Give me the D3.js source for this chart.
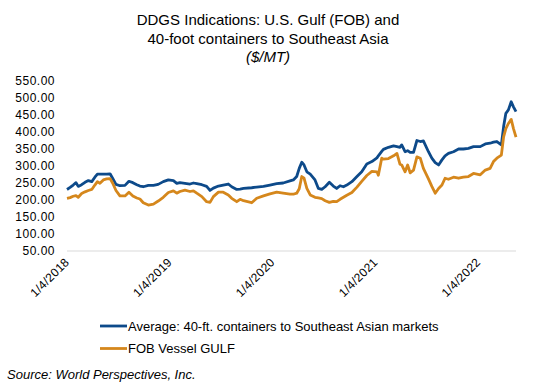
<!DOCTYPE html>
<html>
<head>
  <meta charset="utf-8">
  <script src="https://d3js.org/d3.v7.min.js"></script>
  <style>
    body { margin: 0; background: #fff; }
    text { font-family: Arial, "Liberation Sans", sans-serif; fill: #000; }
  </style>
</head>
<body>
<script>
// values ($/MT)
var dates = ["2018-01-04","2018-01-15","2018-01-26","2018-02-05","2018-02-13","2018-02-25","2018-03-09","2018-03-21",
  "2018-04-02","2018-04-13","2018-04-22","2018-05-01","2018-05-13","2018-05-25","2018-06-06","2018-06-15","2018-06-27",
  "2018-07-11","2018-07-29","2018-08-12","2018-08-26","2018-09-09","2018-09-20","2018-10-02","2018-10-20","2018-11-07",
  "2018-11-24","2018-12-12","2018-12-30","2019-01-17","2019-01-29","2019-02-09","2019-02-27","2019-03-17","2019-03-29",
  "2019-04-10","2019-04-28","2019-05-15","2019-05-27","2019-06-08","2019-06-26","2019-07-13","2019-07-31","2019-08-12",
  "2019-08-30","2019-09-11","2019-09-23","2019-10-22","2019-11-09","2019-12-03","2019-12-26","2020-01-19","2020-02-11",
  "2020-03-06","2020-03-18","2020-03-30","2020-04-08","2020-04-17","2020-04-25","2020-05-05","2020-05-17","2020-06-03",
  "2020-06-15","2020-06-27","2020-07-09","2020-07-24","2020-08-07","2020-08-19","2020-08-31","2020-09-12","2020-09-24",
  "2020-10-12","2020-10-30","2020-11-16","2020-12-04","2020-12-22","2021-01-09","2021-01-14","2021-01-26","2021-02-01",
  "2021-02-19","2021-03-09","2021-03-21","2021-04-01","2021-04-07","2021-04-19","2021-04-28","2021-05-07","2021-05-19",
  "2021-05-31","2021-06-12","2021-06-23","2021-07-11","2021-07-23","2021-08-04","2021-08-16","2021-08-28","2021-09-08",
  "2021-09-20","2021-10-08","2021-10-26","2021-11-12","2021-11-30","2021-12-18","2022-01-11","2022-01-29","2022-02-15",
  "2022-02-27","2022-03-11","2022-03-27","2022-04-04","2022-04-12","2022-04-21","2022-05-01","2022-05-09","2022-05-18"];

var avgContainer = [231,237,244,251,240,245,252,257,254,267,276,276,276,276,277,264,246,242,243,255,251,245,241,239,243,243,
  246,254,259,257,249,251,249,247,250,248,245,240,228,235,241,244,247,239,231,232,234,236,238,240,244,248,250,256,259,269,
  293,311,303,283,276,259,234,231,239,252,241,234,242,239,244,254,269,283,306,313,324,330,343,349,355,359,357,355,362,342,
  345,340,340,375,372,374,342,323,310,303,318,330,337,342,350,350,352,357,357,365,367,370,372,362,416,455,465,489,474,460];

var fobGulf = [205,207,211,213,208,219,224,228,231,244,254,249,259,262,263,250,228,212,212,223,212,206,203,192,185,188,
  197,208,222,227,220,225,229,225,227,220,210,195,193,210,223,223,215,205,195,202,198,192,205,212,218,223,220,217,217,220,
  233,269,264,234,215,208,206,204,198,193,196,195,202,208,214,222,238,255,272,284,283,273,323,320,322,330,337,305,303,283,
  303,280,288,327,323,293,262,240,220,234,244,264,261,267,264,267,269,278,274,288,293,313,323,332,386,410,425,437,410,385];

var seriesNames = ["Average: 40-ft. containers to Southeast Asian markets", "FOB Vessel GULF"];
var seriesColors = ["#0d4a8a", "#d5871c"];
var yTicks = [50,100,150,200,250,300,350,400,450,500,550];
var xTicks = ["2018-01-04","2019-01-04","2020-01-04","2021-01-04","2022-01-04"];
var titleLines = ["DDGS Indications: U.S. Gulf (FOB) and", "40-foot containers to Southeast Asia", "($/MT)"];

var W = 533, H = 386;
var parse = d3.timeParse("%Y-%m-%d");
var fmtTick = function(d) { return (d.getMonth() + 1) + "/" + d.getDate() + "/" + d.getFullYear(); };

var svg = d3.select("body").append("svg").attr("width", W).attr("height", H);

var x = d3.scaleTime()
  .domain([parse("2018-01-04"), parse("2022-05-18")])
  .range([67, 516]);
var y = d3.scaleLinear().domain([50, 550]).range([251, 81]);

// title
var title = svg.append("text").attr("text-anchor", "middle").style("font-size", "15px");
titleLines.forEach(function(t, i) {
  title.append("tspan").attr("x", 268).attr("y", 25 + i * 18.5)
    .style("font-style", i == 2 ? "italic" : "normal").text(t);
});

// y axis labels (no gridlines)
svg.selectAll(".ylab").data(yTicks).enter().append("text")
  .attr("class", "ylab")
  .attr("x", 55).attr("y", function(d) { return y(d); })
  .attr("dy", "0.35em").attr("text-anchor", "end")
  .style("font-size", "12px").style("letter-spacing", "0.5px")
  .text(function(d) { return d3.format(".2f")(d); });

// baseline
svg.append("line").attr("x1", 67).attr("x2", 516).attr("y1", y(50)).attr("y2", y(50))
  .attr("stroke", "#d9d9d9").attr("stroke-width", 1);

// x tick labels, rotated
svg.selectAll(".xlab").data(xTicks.map(parse)).enter().append("text")
  .attr("class", "xlab")
  .attr("text-anchor", "end")
  .attr("transform", function(d) { return "translate(" + (x(d) + 3) + "," + (y(50) + 12) + ") rotate(-45)"; })
  .style("font-size", "12px").style("letter-spacing", "0.3px")
  .text(fmtTick);

// lines
var rows = dates.map(function(d, i) { return { date: parse(d), a: avgContainer[i], f: fobGulf[i] }; });
var keys = ["a", "f"];
keys.forEach(function(k, i) {
  var line = d3.line().x(function(d) { return x(d.date); }).y(function(d) { return y(d[k]); });
  svg.append("path").datum(rows)
    .attr("d", line).attr("fill", "none")
    .attr("stroke", seriesColors[i]).attr("stroke-width", 2.8)
    .attr("stroke-linejoin", "round");
});

// legend
var leg = svg.selectAll(".leg").data(seriesNames).enter().append("g")
  .attr("class", "leg")
  .attr("transform", function(d, i) { return "translate(100," + (326 + i * 22.5) + ")"; });
leg.append("line").attr("x1", 0).attr("x2", 27).attr("y1", 0).attr("y2", 0)
  .attr("stroke", function(d, i) { return seriesColors[i]; }).attr("stroke-width", 2.8);
leg.append("text").attr("x", 28).attr("dy", "0.35em").style("font-size", "13px").text(function(d) { return d; });

// source note
svg.append("text").attr("x", 7).attr("y", 379)
  .style("font-size", "13px").style("font-style", "italic")
  .text("Source: World Perspectives, Inc.");
</script>
</body>
</html>
